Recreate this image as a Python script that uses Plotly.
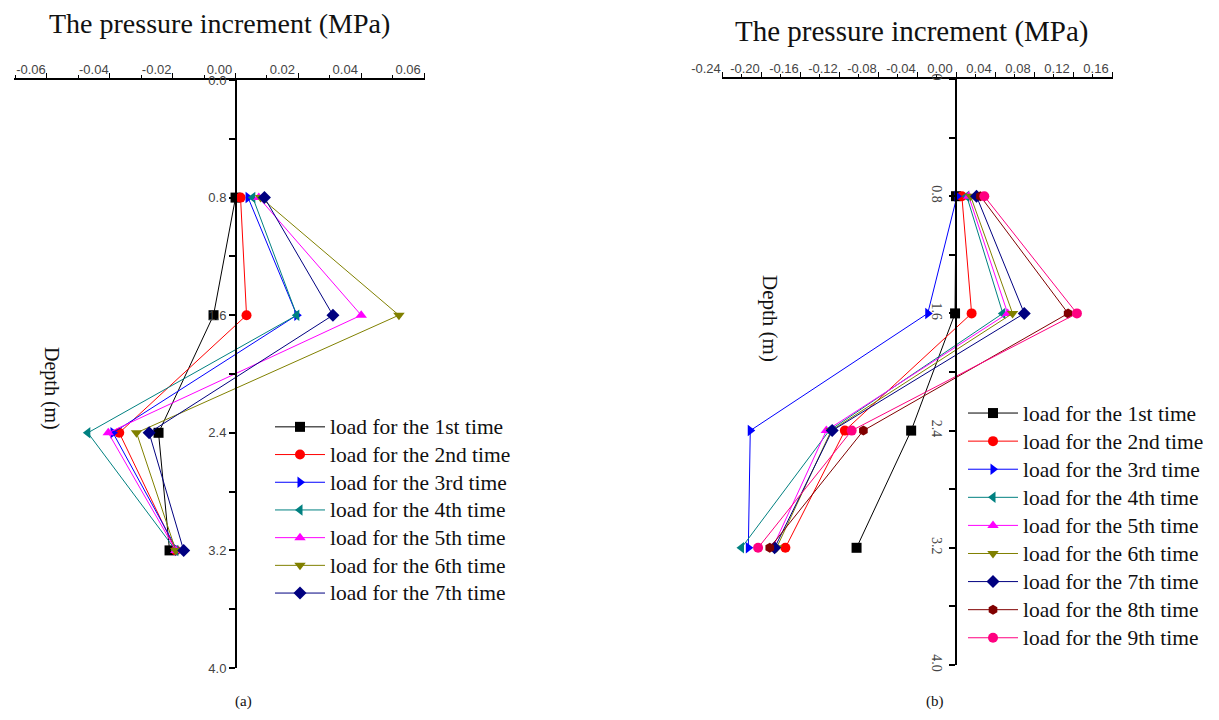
import plotly.graph_objects as go

# page body adds an 8px margin, so the figure is sized to fit inside the window
OFF = 8
W, H = 1219 - 2 * OFF, 720 - 2 * OFF

depths = [0.8, 1.6, 2.4, 3.2]

# Panel (a): pressure increment (MPa)
a_load1 = [0.0, -0.007, -0.0245, -0.021]
a_load2 = [0.0016, 0.0035, -0.037, -0.019]
a_load3 = [0.004, 0.0195, -0.039, -0.0185]
a_load4 = [0.0055, 0.0195, -0.047, -0.019]
a_load5 = [0.0074, 0.040, -0.0405, -0.019]
a_load6 = [0.008, 0.052, -0.0315, -0.019]
a_load7 = [0.0092, 0.031, -0.0275, -0.0165]

# Panel (b)
b_load1 = [0.0, -0.001, -0.046, -0.102]
b_load2 = [0.006, 0.016, -0.114, -0.175]
b_load3 = [0.001, -0.029, -0.211, -0.213]
b_load4 = [0.011, 0.048, -0.130, -0.220]
b_load5 = [0.013, 0.053, -0.133, -0.188]
b_load6 = [0.015, 0.058, -0.128, -0.184]
b_load7 = [0.021, 0.070, -0.127, -0.186]
b_load8 = [0.025, 0.115, -0.095, -0.191]
b_load9 = [0.029, 0.124, -0.107, -0.203]

names = ["load for the 1st time", "load for the 2nd time", "load for the 3rd time",
         "load for the 4th time", "load for the 5th time", "load for the 6th time",
         "load for the 7th time", "load for the 8th time", "load for the 9th time"]
colors = ["#000000", "#FF0000", "#0000FF", "#008080", "#FF00FF", "#808000",
          "#000080", "#800000", "#FF0080"]
symbols = ["square", "circle", "triangle-right", "triangle-left", "triangle-up",
           "triangle-down", "diamond", "hexagon", "circle"]

a_series = [a_load1, a_load2, a_load3, a_load4, a_load5, a_load6, a_load7]
b_series = [b_load1, b_load2, b_load3, b_load4, b_load5, b_load6, b_load7, b_load8, b_load9]

def label(n):
    return "<span style='font-size:21.5px'>" + n + "</span>"

fig = go.Figure()
for i, s in enumerate(a_series):
    fig.add_trace(go.Scatter(x=s, y=depths, mode="lines+markers", name=label(names[i]),
                             line=dict(color=colors[i], width=1),
                             marker=dict(symbol=symbols[i], size=10, color=colors[i]),
                             xaxis="x", yaxis="y", legend="legend"))
for i, s in enumerate(b_series):
    fig.add_trace(go.Scatter(x=s, y=depths, mode="lines+markers", name=label(names[i]),
                             line=dict(color=colors[i], width=1),
                             marker=dict(symbol=symbols[i], size=10, color=colors[i]),
                             xaxis="x2", yaxis="y2", legend="legend2"))

def px(v):
    return (v - OFF) / W

def py(v):
    return 1 - (v - OFF) / H

serif = "Liberation Serif, Times New Roman, serif"
sans = "Liberation Sans, Arial, sans-serif"

a_xticks = [-0.06, -0.04, -0.02, 0.0, 0.02, 0.04, 0.06]
b_xticks = [-0.24, -0.20, -0.16, -0.12, -0.08, -0.04, 0.0, 0.04, 0.08, 0.12, 0.16]
y_ticks = [0.0, 0.8, 1.6, 2.4, 3.2, 4.0]
a_ytext = ["0.0", "0.8", "1.6", "2.4", "3.2", "4.0"]
b_ytext = ["0", "0.8", "1.6", "2.4", "3.2", "4.0"]

common_x = dict(side="top", showline=True, linecolor="black", linewidth=1.5,
                showgrid=False, zeroline=False, ticks="outside", ticklen=5,
                tickwidth=1.2, tickcolor="black", automargin=False,
                tickfont=dict(family=sans, size=13, color="#444"),
                ticklabelshift=-16, ticklabelstandoff=-6)
common_y = dict(autorange=False, showline=True, linecolor="black", linewidth=2,
                showgrid=False, zeroline=False, ticks="outside", ticklen=6,
                tickwidth=1.5, tickcolor="black", anchor="free", tickmode="array",
                automargin=False,
                minor=dict(ticks="outside", ticklen=6, dtick=0.4, tickcolor="black", tickwidth=1.5))

def note(text, x, y, size, angle=0):
    return dict(text=text, x=px(x), y=py(y), xref="paper", yref="paper",
                xanchor="center", yanchor="middle", textangle=angle,
                showarrow=False, font=dict(family=serif, size=size, color="#111"))

fig.update_layout(
    width=W, height=H, margin=dict(l=0, r=0, t=0, b=0, autoexpand=False),
    paper_bgcolor="white", plot_bgcolor="white",
    xaxis=dict(domain=[px(14), px(425)], range=[-0.0705, 0.0603], anchor="y",
               tickmode="array", tickvals=a_xticks,
               ticktext=["-0.06", "-0.04", "-0.02", "0.00", "0.02", "0.04", "0.06"],
               minor=dict(ticks="outside", ticklen=3, dtick=0.01, tickcolor="black"),
               **common_x),
    yaxis=dict(domain=[py(668), py(80)], range=[4.0, 0.0], position=px(236),
               tickvals=y_ticks, ticktext=a_ytext,
               tickfont=dict(family=sans, size=13, color="#444"), **common_y),
    xaxis2=dict(domain=[px(722), px(1113)], range=[-0.24, 0.161], anchor="y2",
                tickmode="array", tickvals=b_xticks,
                ticktext=["-0.24", "-0.20", "-0.16", "-0.12", "-0.08", "-0.04", "0.00",
                          "0.04", "0.08", "0.12", "0.16"],
                minor=dict(ticks="outside", ticklen=3, dtick=0.02, tickcolor="black"),
                **common_x),
    yaxis2=dict(domain=[py(665), py(79)], range=[4.0, 0.0], position=px(956),
                tickvals=y_ticks, ticktext=b_ytext, tickangle=90,
                tickfont=dict(family=serif, size=14, color="#444"), **common_y),
    legend=dict(x=px(270), y=py(408), xanchor="left", yanchor="top",
                font=dict(family=serif, size=19, color="#111"),
                bgcolor="rgba(0,0,0,0)", borderwidth=0, itemwidth=50),
    legend2=dict(x=px(963), y=py(394), xanchor="left", yanchor="top",
                 font=dict(family=serif, size=19.3, color="#111"),
                 bgcolor="rgba(0,0,0,0)", borderwidth=0, itemwidth=50),
    showlegend=True,
    annotations=[
        note("The pressure increment (MPa)", 219, 24, 28),
        note("The pressure increment (MPa)", 912, 31, 29),
        note("Depth (m)", 52, 388, 20, 90),
        note("Depth (m)", 770, 318, 21, 90),
        note("(a)", 243, 701, 15),
        note("(b)", 935, 701, 15),
    ],
)

fig.write_html("out.html")
